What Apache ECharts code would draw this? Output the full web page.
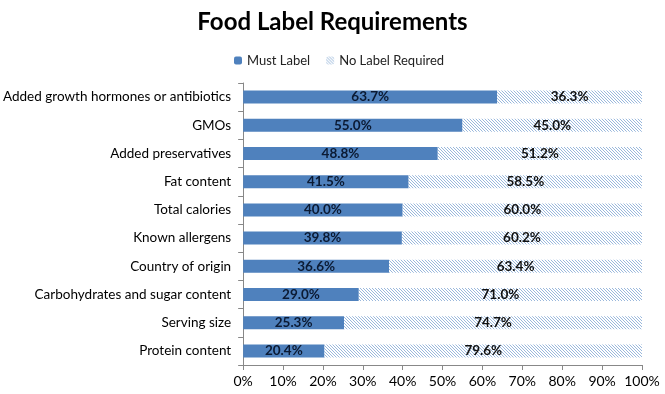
<!DOCTYPE html>
<html><head><meta charset="utf-8">
<script src="https://cdn.jsdelivr.net/npm/echarts@6/dist/echarts.min.js"></script>
<style>html,body{margin:0;padding:0;background:#fff}#c{width:665px;height:394px}</style>
</head><body><div id="c"></div>
<script>
const categories = ["Added growth hormones or antibiotics","GMOs","Added preservatives","Fat content","Total calories","Known allergens","Country of origin","Carbohydrates and sugar content","Serving size","Protein content"];
const mustLabel = [63.7,55.0,48.8,41.5,40.0,39.8,36.6,29.0,25.3,20.4];
const noLabel = [36.3,45.0,51.2,58.5,60.0,60.2,63.4,71.0,74.7,79.6];
const xTicks = [0,10,20,30,40,50,60,70,80,90,100];

function hatch(){
  const c=document.createElement('canvas');c.width=3;c.height=3;
  const g=c.getContext('2d');g.fillStyle='#fff';g.fillRect(0,0,3,3);
  g.strokeStyle='#9ab8dc';g.lineWidth=1;
  g.beginPath();g.moveTo(0,0);g.lineTo(3,3);g.moveTo(-1.5,1.5);g.lineTo(1.5,4.5);g.moveTo(1.5,-1.5);g.lineTo(4.5,1.5);g.stroke();
  return c;
}
const pat={image:hatch(),repeat:'repeat'};
const ff="Lato, 'Open Sans', sans-serif";
const chart=echarts.init(document.getElementById('c'),null,{renderer:'canvas'});
chart.setOption({
  animation:false,
  title:{text:'Food Label Requirements',left:'center',top:5,textStyle:{fontFamily:ff,fontSize:24,fontWeight:'bold',color:'#000'}},
  legend:{top:49,left:229,itemWidth:8,itemHeight:8,itemGap:16,textStyle:{fontFamily:ff,fontSize:13,color:'#222'},
    data:['Must Label','No Label Required']},
  grid:{left:240,right:23,top:83,bottom:29,containLabel:false},
  xAxis:{type:'value',min:0,max:100,interval:10,
    axisLine:{show:true,lineStyle:{color:'#888'}},axisTick:{show:true,length:5,lineStyle:{color:'#888'}},
    splitLine:{show:false},
    axisLabel:{fontFamily:ff,fontSize:14,color:'#000',margin:9,formatter:v=>xTicks.includes(v)?v+'%':''}},
  yAxis:{type:'category',inverse:true,data:categories,
    axisLine:{show:true,lineStyle:{color:'#888'}},axisTick:{show:true,length:5,lineStyle:{color:'#888'}},
    axisLabel:{fontFamily:ff,fontSize:13.5,color:'#000',margin:12}},
  series:[
    {name:'Must Label',type:'bar',stack:'a',data:mustLabel,barWidth:13,itemStyle:{color:'#4f81bd'},
      label:{show:true,position:'inside',formatter:p=>p.value.toFixed(1)+'%',fontFamily:ff,fontSize:13.5,fontWeight:'bold',color:'#0b1a33'}},
    {name:'No Label Required',type:'bar',stack:'a',data:noLabel,barWidth:13,itemStyle:{color:pat},
      label:{show:true,position:'inside',formatter:p=>p.value.toFixed(1)+'%',fontFamily:ff,fontSize:13.5,fontWeight:'bold',color:'#111'}}
  ]
});
</script></body></html>
